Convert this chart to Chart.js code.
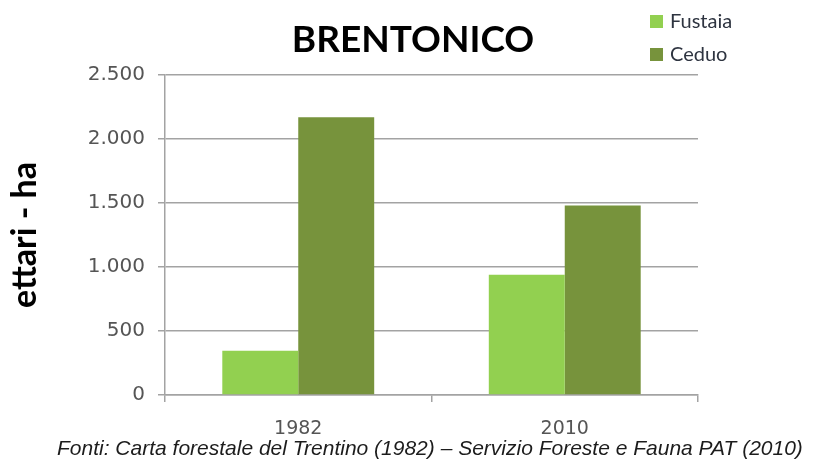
<!DOCTYPE html>
<html>
<head>
<meta charset="utf-8">
<script src="https://cdn.jsdelivr.net/npm/chart.js@4/dist/chart.umd.min.js"></script>
<style>
  html, body { margin: 0; padding: 0; background: #fff; }
  #wrap { width: 824px; height: 459px; }
</style>
</head>
<body>
<div id="wrap"><canvas id="forestChart" width="824" height="459"></canvas></div>
<script>
// Data
const years = ['1982', '2010'];
const fustaia = [345, 940];
const ceduo = [2170, 1480];
const yTicks = [0, 500, 1000, 1500, 2000, 2500];
const chartTitle = 'BRENTONICO';
const sourceNote = 'Fonti: Carta forestale del Trentino (1982) \u2013 Servizio Foreste e Fauna PAT (2010)';

const gridGray = '#a3a3a3';
const tickGray = '#555555';

// Thousands separator with a dot, like the original
function formatIt(v) {
    return String(v).replace(/\B(?=(\d{3})+(?!\d))/g, '.');
}

// Title centred on the page, legend top right, source line at the bottom
const extrasPlugin = {
    id: 'extras',
    afterDraw(chart) {
        const ctx = chart.ctx;
        ctx.save();
        ctx.font = 'bold 37px Lato, "Open Sans", sans-serif';
        ctx.fillStyle = '#000';
        ctx.textAlign = 'center';
        ctx.textBaseline = 'alphabetic';
        ctx.fillText(chartTitle, 413, 52);

        ctx.font = '20px Lato, "Open Sans", sans-serif';
        ctx.textBaseline = 'middle';
        ctx.textAlign = 'left';
        chart.data.datasets.forEach((ds, i) => {
            const y = 22 + i * 33;
            ctx.fillStyle = ds.backgroundColor;
            ctx.fillRect(650, y - 7, 13, 13);
            ctx.fillStyle = '#2e3440';
            ctx.fillText(ds.label, 670, y);
        });

        ctx.font = 'italic 21px "Liberation Sans", Arial, sans-serif';
        ctx.fillStyle = '#1c1c1c';
        ctx.textBaseline = 'alphabetic';
        ctx.fillText(sourceNote, 57, 455);
        ctx.restore();
    }
};

const chart = new Chart(document.getElementById('forestChart'), {
    type: 'bar',
    data: {
        labels: years,
        datasets: [{
            label: 'Fustaia',
            data: fustaia,
            backgroundColor: '#92D050'
        }, {
            label: 'Ceduo',
            data: ceduo,
            backgroundColor: '#77933C'
        }]
    },
    options: {
        responsive: false,
        animation: false,
        layout: {
            padding: { left: 0, right: 126, top: 75, bottom: 0 }
        },
        datasets: {
            bar: {
                categoryPercentage: 0.57,
                barPercentage: 1.0
            }
        },
        plugins: {
            legend: { display: false },
            tooltip: { enabled: false },
            title: { display: false }
        },
        scales: {
            x: {
                offset: true,
                afterFit: scale => { scale.height = 64; },
                grid: {
                    display: true,
                    offset: true,
                    drawOnChartArea: false,
                    drawTicks: true,
                    tickLength: 7,
                    color: gridGray,
                    lineWidth: 1.5
                },
                border: { color: gridGray, width: 1.5 },
                ticks: {
                    color: tickGray,
                    padding: 16,
                    font: { family: '"DejaVu Sans", sans-serif', size: 19 }
                }
            },
            y: {
                min: 0,
                max: 2500,
                afterFit: scale => { scale.width = 165; },
                afterBuildTicks: scale => {
                    scale.ticks = yTicks.map(v => ({ value: v }));
                },
                grid: {
                    color: gridGray,
                    lineWidth: 1.5,
                    tickLength: 7
                },
                border: { color: gridGray, width: 1.5 },
                ticks: {
                    color: tickGray,
                    padding: 13,
                    font: { family: '"DejaVu Sans", sans-serif', size: 20 },
                    callback: v => formatIt(v)
                },
                title: {
                    display: true,
                    text: 'ettari - ha',
                    color: '#000',
                    font: {
                        family: 'Lato, "Open Sans", sans-serif',
                        size: 34,
                        weight: 'bold',
                        lineHeight: 1.2
                    },
                    padding: { top: 5, bottom: 0 }
                }
            }
        }
    },
    plugins: [extrasPlugin]
});
</script>
</body>
</html>
